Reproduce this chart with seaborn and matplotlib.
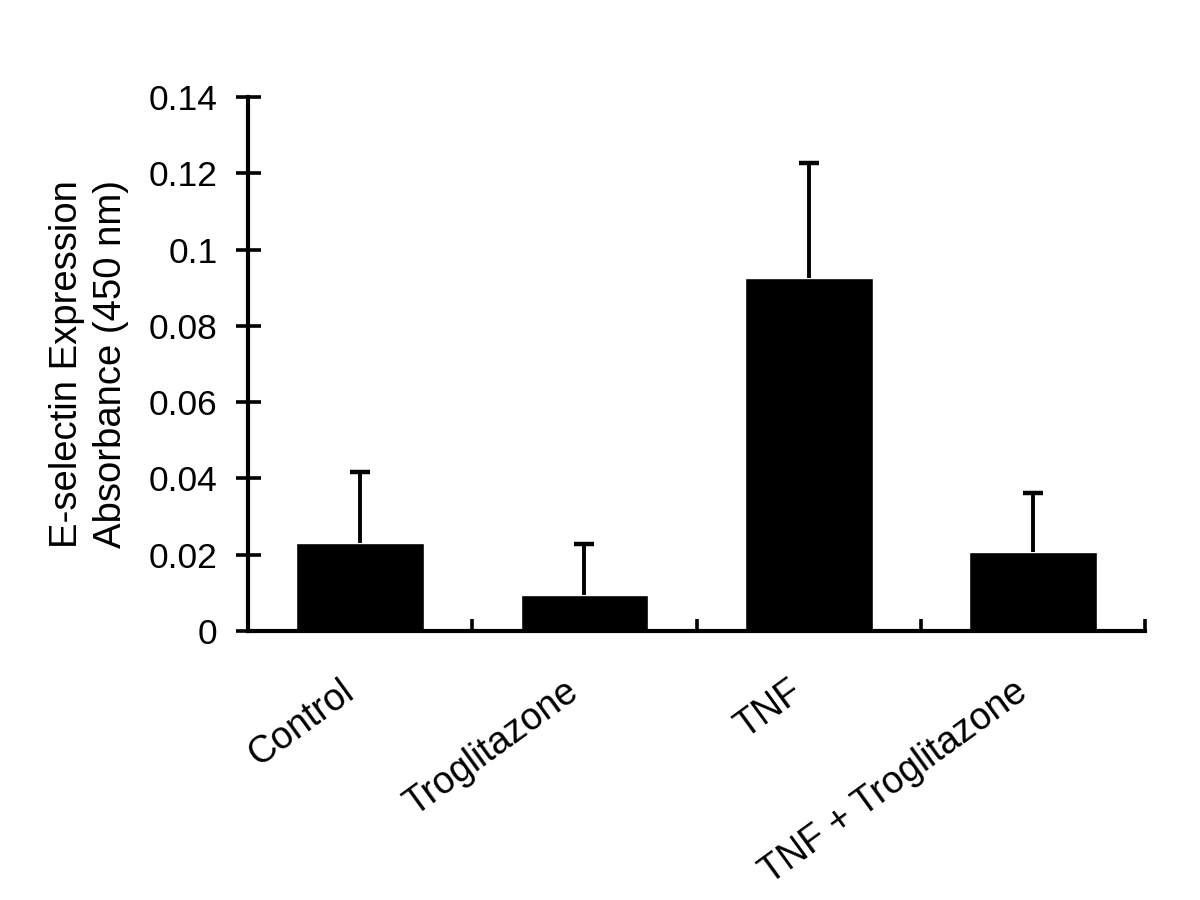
import matplotlib
matplotlib.use("Agg")
import matplotlib.pyplot as plt
import matplotlib.transforms as mtransforms
from matplotlib.ticker import FixedLocator, FuncFormatter
import seaborn as sns
import numpy as np

# values
groups = ["Control", "Troglitazone", "TNF", "TNF + Troglitazone"]
absorbance = [0.0231, 0.0094, 0.0926, 0.0207]
err_top = [0.0417, 0.0228, 0.1227, 0.0362]
sem = [t - m for t, m in zip(err_top, absorbance)]
y_ticks = [0, 0.02, 0.04, 0.06, 0.08, 0.1, 0.12, 0.14]

sns.set_style("white")
plt.rcParams["font.family"] = ["Liberation Sans", "DejaVu Sans"]
plt.rcParams["text.color"] = "black"
plt.rcParams["xtick.color"] = "black"
plt.rcParams["ytick.color"] = "black"
plt.rcParams["axes.labelcolor"] = "black"

fig = plt.figure(figsize=(12, 9), dpi=100)
ax = fig.add_axes([0.2067, 0.299, 0.7475, 0.593])

sns.barplot(x=groups, y=absorbance, color="black", width=0.57,
            errorbar=None, saturation=1, ax=ax)

# upper error bar only, with a single cap
pos = np.arange(len(groups))
ax.errorbar(pos, absorbance, yerr=[np.zeros(len(sem)), sem], fmt="none",
            ecolor="black", elinewidth=2.8, capsize=0)
ax.plot(pos, np.array(absorbance) + np.array(sem), linestyle="none",
        marker="_", markersize=15, markeredgewidth=3.2, color="black")

ax.set_xlim(-0.5, 3.5)
ax.set_ylim(0, 0.14)
ax.set_yticks(y_ticks)
ax.yaxis.set_major_formatter(FuncFormatter(lambda v, p: f"{v:g}"))

for s in ["top", "right"]:
    ax.spines[s].set_visible(False)
for s in ["left", "bottom"]:
    ax.spines[s].set_linewidth(3)
    ax.spines[s].set_color("black")

ax.tick_params(axis="y", direction="inout", length=18, width=2.6,
               labelsize=25.5, pad=13, left=True)
ax.tick_params(axis="x", which="major", length=0, labelsize=27, pad=41)
ax.xaxis.set_minor_locator(FixedLocator([0.5, 1.5, 2.5, 3.5]))
ax.tick_params(axis="x", which="minor", direction="in", length=9,
               width=2.6, bottom=True)

ax.set_xlabel("")
ax.set_xticks(pos)
ax.set_xticklabels(groups, rotation=36, ha="right", va="center",
                   rotation_mode="anchor")
shift = mtransforms.ScaledTranslation(-10 / 100, 0, fig.dpi_scale_trans)
for lab in ax.get_xticklabels():
    lab.set_transform(lab.get_transform() + shift)

ax.set_ylabel("E-selectin Expression\nAbsorbance (450 nm)", fontsize=27.5,
              linespacing=1.3, labelpad=14)

fig.savefig("out.png", dpi=100, facecolor="white")
